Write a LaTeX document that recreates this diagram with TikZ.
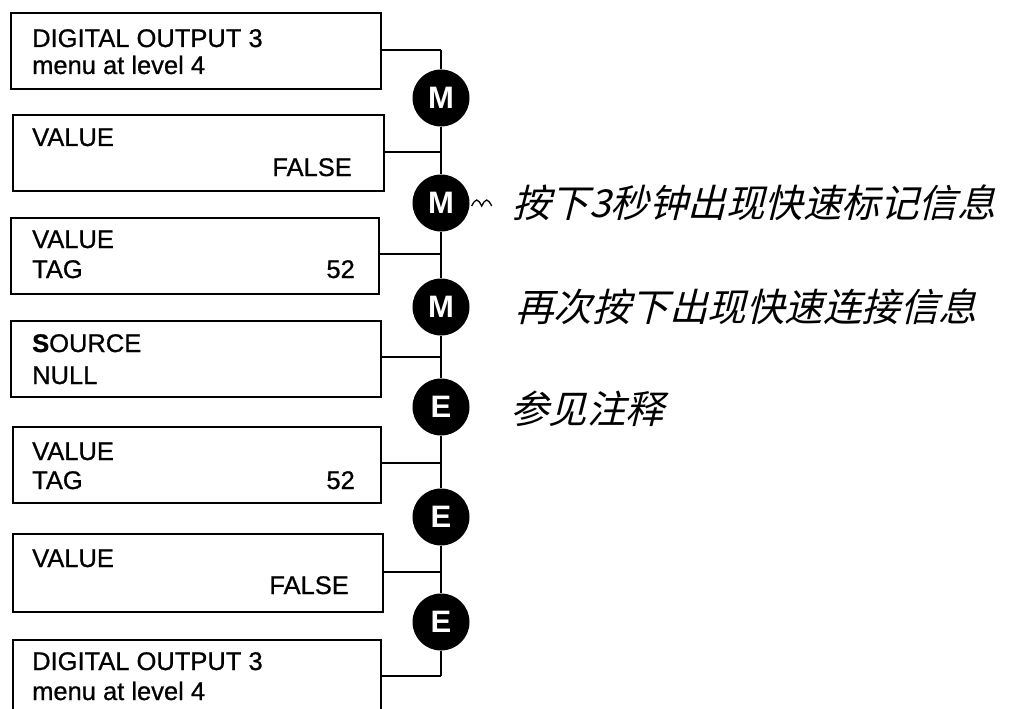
\documentclass[tikz,border=0pt]{standalone}
\usepackage{fontspec}
\setmainfont{Liberation Sans}
\newfontfamily\boxfont[FakeBold=0.8]{Liberation Sans}
\newfontfamily\cjk[FakeSlant=0.25]{Noto Sans CJK SC}
\begin{document}
\begin{tikzpicture}[x=1pt,y=-1pt,
  box/.style={draw, line width=1.8pt, inner sep=0pt, anchor=north west, minimum width=370pt, minimum height=76pt},
  txt/.style={anchor=base west, inner sep=0pt, font=\fontsize{25.5}{30}\boxfont},
  txtr/.style={anchor=base east, inner sep=0pt, font=\fontsize{25.5}{30}\boxfont},
  key/.style={circle, fill=black, minimum size=57pt, inner sep=0pt, text=white, font=\fontsize{31}{31}\selectfont\bfseries},
  wire/.style={line width=1.6pt},
  heavywire/.style={line width=2.8pt},
  note/.style={anchor=west, inner sep=0pt, font=\fontsize{38.5}{40}\cjk}]
\useasboundingbox (0,0) rectangle (1013,709);

% boxes
\node[box] (b1) at (10,12) {};
\node[box, minimum width=371pt] (b2) at (12,114) {};
\node[box, minimum width=368pt] (b3) at (10,217) {};
\node[box] (b4) at (10,320) {};
\node[box, minimum width=368pt] (b5) at (12,426) {};
\node[box, minimum width=370pt, minimum height=78pt] (b6) at (12,533) {};
\node[box, minimum width=368pt, minimum height=90pt] (b7) at (12,639) {};

% box texts
\node[txt] (t1a) at (32,47) {DIGITAL OUTPUT 3};
\node[txt] (t1b) at (32,74) {menu at level 4};
\node[txt] (t2a) at (32,146) {VALUE};
\node[txtr] (t2b) at (352,176) {FALSE};
\node[txt] (t3a) at (32,248) {VALUE};
\node[txt] (t3b) at (32,278) {TAG};
\node[txtr] (t3c) at (355,278) {52};
\node[txt] (t4a) at (32,352) {{\bfseries S}OURCE};
\node[txt] (t4b) at (32,384) {NULL};
\node[txt] (t5a) at (32,460) {VALUE};
\node[txt] (t5b) at (32,489) {TAG};
\node[txtr] (t5c) at (355,489) {52};
\node[txt] (t6a) at (32,567) {VALUE};
\node[txtr] (t6b) at (349,594) {FALSE};
\node[txt] (t7a) at (32,670) {DIGITAL OUTPUT 3};
\node[txt] (t7b) at (32,700) {menu at level 4};

% junctions on the spine
\coordinate (j1) at (441,50);
\coordinate (j2) at (441,152);
\coordinate (j3) at (441,254);
\coordinate (j4) at (441,357);
\coordinate (j5) at (441,463);
\coordinate (j6) at (441,572);
\coordinate (j7) at (441,676);

% keys
\node[key] (m1) at (441,98) {M};
\node[key] (m2) at (441,203) {M};
\node[key] (m3) at (441,307) {M};
\node[key] (e1) at (441,407) {E};
\node[key] (e2) at (441,517) {E};
\node[key] (e3) at (441,622) {E};

% connectors
\draw[heavywire] (b1.east |- j1) -- (j1);
\draw[wire] (b2.east |- j2) -- (j2);
\draw[wire] (b3.east |- j3) -- (j3);
\draw[wire] (b4.east |- j4) -- (j4);
\draw[wire] (b5.east |- j5) -- (j5);
\draw[wire] (b6.east |- j6) -- (j6);
\draw[heavywire] (b7.east |- j7) -- (j7);
\draw[wire] (j1) -- (m1) -- (m2) -- (m3) -- (e1) -- (e2) -- (e3) -- (j7);

% tilde
\draw[line width=1.3pt] (m2.east) ++(2,3) sin ++(5,-6) cos ++(5,6) sin ++(5,-6) cos ++(5,6);

% notes
\node[note] (n1) at (512,203) {按下3秒钟出现快速标记信息};
\node[note] (n2) at (515,307) {再次按下出现快速连接信息};
\node[note] (n3) at (510,409) {参见注释};
\end{tikzpicture}
\end{document}
